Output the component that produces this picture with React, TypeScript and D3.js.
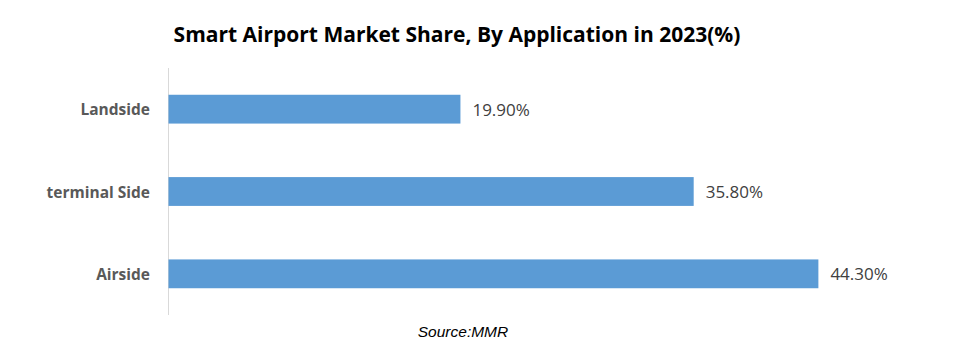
import React from "react";
import * as d3 from "d3";

const categories = ["Landside", "terminal Side", "Airside"];
const values = [19.9, 35.8, 44.3];
const valueLabels = ["19.90%", "35.80%", "44.30%"];
const title = "Smart Airport Market Share, By Application in 2023(%)";
const source = "Source:MMR";

const W = 955;
const H = 354;

export default function App() {
  const x = d3.scaleLinear().domain([0, 50]).range([168.5, 902]);
  const y = d3
    .scaleBand<string>()
    .domain(categories)
    .range([68, 315])
    .paddingInner(0.65)
    .paddingOuter(0.325);

  return (
    <svg
      width={W}
      height={H}
      style={{ position: "absolute", left: 0, top: 0, background: "#fff" }}
    >
      <text
        x={457}
        y={42}
        textAnchor="middle"
        fontFamily="'Open Sans', sans-serif"
        fontWeight="bold"
        fontSize={21}
        fill="#000"
      >
        {title}
      </text>
      <line x1={x(0)} x2={x(0)} y1={68} y2={315} stroke="#d9d9d9" strokeWidth={1} />
      {categories.map((c, i) => (
        <g key={c}>
          <rect
            x={x(0)}
            y={y(c)}
            width={x(values[i]) - x(0)}
            height={y.bandwidth()}
            fill="#5b9bd5"
          />
          <text
            x={150}
            y={(y(c) as number) + y.bandwidth() / 2}
            dominantBaseline="central"
            textAnchor="end"
            fontFamily="'Open Sans', sans-serif"
            fontWeight="bold"
            fontSize={15.5}
            fill="#595959"
          >
            {c}
          </text>
          <text
            x={x(values[i]) + 12}
            y={(y(c) as number) + y.bandwidth() / 2}
            dominantBaseline="central"
            fontFamily="'Open Sans', sans-serif"
            fontSize={17}
            fill="#404040"
          >
            {valueLabels[i]}
          </text>
        </g>
      ))}
      <text
        x={463}
        y={337}
        textAnchor="middle"
        fontFamily="'Liberation Sans', Arial, sans-serif"
        fontStyle="italic"
        fontSize={15.5}
        fill="#000"
      >
        {source}
      </text>
    </svg>
  );
}
